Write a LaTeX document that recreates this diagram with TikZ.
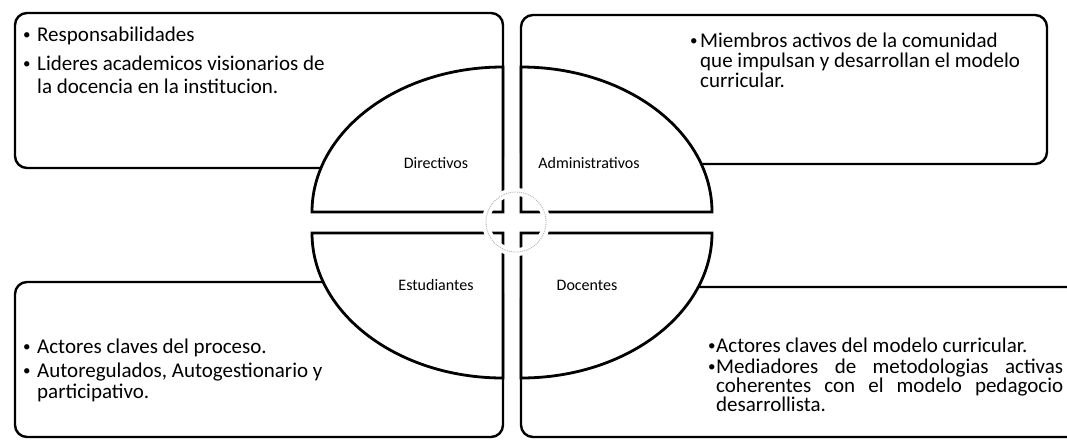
\documentclass[tikz,border=0pt]{standalone}
\usepackage{fontspec}
\setmainfont{Carlito}
\newcommand\smallbul{\raisebox{1.8pt}{\fontsize{15}{15}\selectfont•}}
\newcommand\bitem[1]{\par\hangindent=#1\hangafter=1\noindent\makebox[#1][l]{\smallbul}}
\begin{document}
\begin{tikzpicture}[x=1pt,y=-1pt,
  box/.style={draw=black, line width=2.4pt, fill=white, rounded corners=12pt},
  quarter/.style={draw=black, line width=2.8pt, fill=white},
  lbl/.style={anchor=base, inner sep=0, font=\fontsize{16}{18}\selectfont},
  txt/.style={anchor=base west, inner sep=0}]
\useasboundingbox (0,0) rectangle (1067,440);
\clip (0,0) rectangle (1067,440);
% boxes
\draw[box] (15,13) rectangle (503,168);
\draw[box] (521,15) rectangle (1047,164);
\draw[box] (15,282) rectangle (503,437);
\draw[box] (521,287) rectangle (1110,437);
% quarters of the ellipse
\draw[quarter] (503,212) -- (312,212) arc[start angle=180, end angle=270, x radius=191, y radius=145] -- cycle;
\draw[quarter] (521,212) -- (521,67) arc[start angle=270, end angle=360, x radius=191, y radius=145] -- cycle;
\draw[quarter] (503,233) -- (312,233) arc[start angle=180, end angle=90, x radius=191, y radius=145] -- cycle;
\draw[quarter] (521,233) -- (712,233) arc[start angle=0, end angle=90, x radius=191, y radius=145] -- cycle;
% centre cycle
\fill[white, even odd rule] (516,222) circle[radius=34] (516,222) circle[radius=26];
\draw[gray!60, densely dotted, line width=0.9pt] (516,222) circle[radius=30];
% texts
\node[txt] (tltext) at (23,41) {\parbox[t]{470pt}{\fontsize{21}{23}\selectfont
\bitem{14pt}Responsabilidades\par\vspace{6pt}
\bitem{14pt}Lideres academicos visionarios de\newline la docencia en la institucion.}};
\node[txt] (trtext) at (690,47) {\parbox[t]{350pt}{\fontsize{21}{20}\selectfont
\bitem{10pt}Miembros activos de la comunidad\newline que impulsan y desarrollan el modelo\newline curricular.}};
\node[txt] (bltext) at (23,353) {\parbox[t]{470pt}{\fontsize{21}{21.5}\selectfont
\bitem{14pt}Actores claves del proceso.\par\vspace{2.5pt}
\bitem{14pt}Autoregulados, Autogestionario y\newline participativo.}};
\node[txt] (brtext) at (708,352) {\parbox[t]{380pt}{\fontsize{21}{19}\selectfont
\bitem{8pt}Actores claves del modelo curricular.\par\vspace{2pt}
\bitem{8pt}\makebox[347pt][s]{Mediadores de metodologias activas}\newline\makebox[347pt][s]{coherentes con el modelo pedagocio}\newline desarrollista.}};
% labels
\node[lbl] (dir) at (436,168) {Directivos};
\node[lbl] (adm) at (589,168) {Administrativos};
\node[lbl] (est) at (436,290) {Estudiantes};
\node[lbl] (doc) at (587,290) {Docentes};
\end{tikzpicture}
\end{document}
